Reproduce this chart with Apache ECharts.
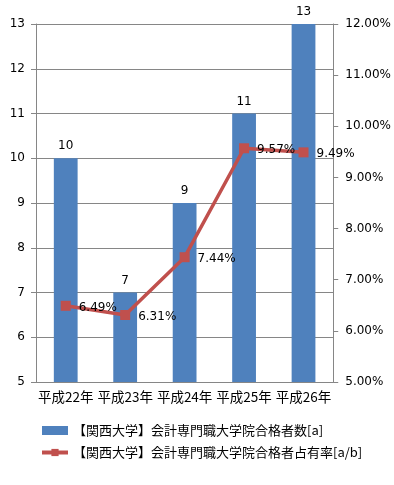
<!DOCTYPE html>
<html><head><meta charset="utf-8">
<script src="https://cdn.jsdelivr.net/npm/echarts@6/dist/echarts.min.js"></script>
<style>html,body{margin:0;padding:0;background:#fff}#c{width:394px;height:485px}</style>
</head><body><div id="c"></div>
<script>
const categories = ['平成22年','平成23年','平成24年','平成25年','平成26年'];
const passCounts = [10, 7, 9, 11, 13];
const shareRates = [6.49, 6.31, 7.44, 9.57, 9.49];
const barName = '【関西大学】会計専門職大学院合格者数[a]';
const lineName = '【関西大学】会計専門職大学院合格者占有率[a/b]';

const gray = '#868686';
const numFont = 'DejaVu Sans';
const cjkFont = 'Noto Sans CJK JP';
const chart = echarts.init(document.getElementById('c'));
chart.setOption({
  animation: false,
  grid: {left: 36, right: 55, top: 24, bottom: 103},
  legend: {
    orient: 'vertical', left: 35, top: 419, itemGap: 9,
    itemWidth: 26, itemHeight: 9,
    textStyle: {fontFamily: cjkFont, fontSize: 13, color: '#000'},
    data: [{name: barName, icon: 'rect', itemStyle: {color: '#4F81BD'}},
           {name: lineName, lineStyle: {width: 4}}]
  },
  xAxis: {
    type: 'category', data: categories,
    axisLine: {lineStyle: {color: gray}},
    axisTick: {lineStyle: {color: gray}, length: 5},
    axisLabel: {interval: 0, fontFamily: cjkFont, fontSize: 13.5, color: '#000', margin: 8}
  },
  yAxis: [{
    type: 'value', min: 5, max: 13, interval: 1,
    axisLine: {show: true, lineStyle: {color: gray}},
    axisTick: {show: true, lineStyle: {color: gray}, length: 5},
    splitLine: {lineStyle: {color: gray}},
    axisLabel: {fontFamily: numFont, fontSize: 12, color: '#000', margin: 11}
  }, {
    type: 'value', min: 5, max: 12, interval: 1,
    axisLine: {show: true, lineStyle: {color: gray}},
    axisTick: {show: true, lineStyle: {color: gray}, length: 5},
    splitLine: {show: false},
    axisLabel: {fontFamily: numFont, fontSize: 12, color: '#000', margin: 12,
      formatter: v => v.toFixed(2) + '%'}
  }],
  series: [{
    name: barName, type: 'bar', data: passCounts, barWidth: '40%',
    itemStyle: {color: '#4F81BD'},
    label: {show: true, position: 'top', distance: 6, fontFamily: numFont, fontSize: 12, color: '#000'}
  }, {
    name: lineName, type: 'line', yAxisIndex: 1, data: shareRates,
    lineStyle: {color: '#C0504D', width: 3.5},
    itemStyle: {color: '#C0504D'},
    symbol: 'rect', symbolSize: 10,
    label: {show: true, position: 'right', distance: 8, offset: [0, 2], fontFamily: numFont, fontSize: 12, color: '#000',
      formatter: p => p.value.toFixed(2) + '%'}
  }]
});
</script></body></html>
